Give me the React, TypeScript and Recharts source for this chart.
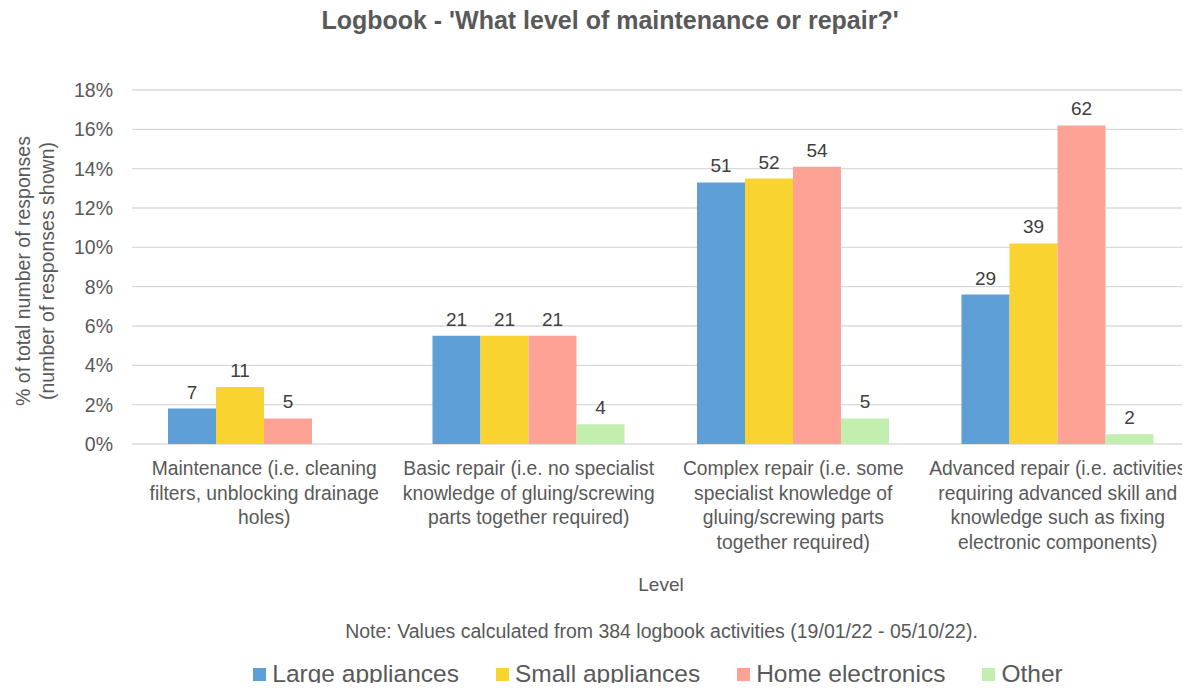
import React from 'react';
import { BarChart, Bar, XAxis, YAxis, CartesianGrid, Legend, LabelList, Label } from 'recharts';

const categories = [
  'Maintenance (i.e. cleaning\nfilters, unblocking drainage\nholes)',
  'Basic repair (i.e. no specialist\nknowledge of gluing/screwing\nparts together required)',
  'Complex repair (i.e. some\nspecialist knowledge of\ngluing/screwing parts\ntogether required)',
  'Advanced repair (i.e. activities\nrequiring advanced skill and\nknowledge such as fixing\nelectronic components)',
];

// % of total responses
const largePct = [1.8, 5.5, 13.3, 7.6];
const smallPct = [2.9, 5.5, 13.5, 10.2];
const homePct = [1.3, 5.5, 14.1, 16.2];
const otherPct = [null, 1.0, 1.3, 0.5];

// number of responses shown above bars
const largeN = [7, 21, 51, 29];
const smallN = [11, 21, 52, 39];
const homeN = [5, 21, 54, 62];
const otherN = [null, 4, 5, 2];

const yTicks = [0, 2, 4, 6, 8, 10, 12, 14, 16, 18];

const FONT = '"Liberation Sans", Arial, Helvetica, sans-serif';
const GREY = '#595959';

const series = [
  { key: 'large', label: 'largeN', name: 'Large appliances', color: '#5f9fd7' },
  { key: 'small', label: 'smallN', name: 'Small appliances', color: '#f9d431' },
  { key: 'home', label: 'homeN', name: 'Home electronics', color: '#ffa296' },
  { key: 'other', label: 'otherN', name: 'Other', color: '#c2eeb0' },
];

const data = categories.map((c, i) => ({
  category: c,
  large: largePct[i],
  small: smallPct[i],
  home: homePct[i],
  other: otherPct[i],
  largeN: largeN[i],
  smallN: smallN[i],
  homeN: homeN[i],
  otherN: otherN[i],
}));

const CategoryTick = (props: any) => {
  const { x, y, payload } = props;
  const lines = String(payload.value).split('\n');
  return (
    <text x={x} y={y + 23} textAnchor="middle" fill={GREY} fontSize={19.3} fontFamily={FONT}>
      {lines.map((l: string, i: number) => (
        <tspan key={i} x={x} dy={i === 0 ? 0 : 24.5}>{l}</tspan>
      ))}
    </text>
  );
};

const LegendBox = () => (
  <div style={{ height: 71, fontFamily: FONT, color: GREY }}>
    <div style={{ textAlign: 'center', fontSize: 19.5, height: 22, lineHeight: '22px', paddingLeft: 133 }}>
      Note: Values calculated from 384 logbook activities (19/01/22 - 05/10/22).
    </div>
    <div style={{ display: 'flex', justifyContent: 'center', alignItems: 'center', marginTop: 19, paddingLeft: 126 }}>
      {series.map((s, i) => (
        <div key={s.key} style={{ display: 'flex', alignItems: 'center', marginRight: i < series.length - 1 ? 37 : 0 }}>
          <span style={{ width: 13, height: 13, background: s.color, display: 'inline-block', marginRight: 6 }} />
          <span style={{ fontSize: 24.5, lineHeight: '26px' }}>{s.name}</span>
        </div>
      ))}
    </div>
  </div>
);

const YLabel = () => {
  const cy = 271;
  return (
    <g fontFamily={FONT} fontSize={19.5} fill={GREY}>
      <text x={23} y={cy} textAnchor="middle" dominantBaseline="central" transform={`rotate(-90, 23, ${cy})`}>
        % of total number of responses
      </text>
      <text x={47} y={cy} textAnchor="middle" dominantBaseline="central" transform={`rotate(-90, 47, ${cy})`}>
        (number of responses shown)
      </text>
    </g>
  );
};

const XLabel = (props: any) => {
  const { viewBox } = props;
  const cx = viewBox.x + viewBox.width / 2;
  return (
    <text x={cx} y={584} textAnchor="middle" dominantBaseline="central" fill={GREY} fontSize={19} fontFamily={FONT}>
      Level
    </text>
  );
};

export default function App() {
  return (
    <div style={{ position: 'relative', width: 1190, height: 691, margin: -8, background: '#fff', fontFamily: FONT }}>
      <div style={{ position: 'absolute', top: 6, left: 0, width: 1220, textAlign: 'center', fontSize: 25, fontWeight: 'bold', color: GREY }}>
        Logbook - 'What level of maintenance or repair?'
      </div>
      <div style={{ position: 'absolute', top: 0, left: 0 }}>
        <BarChart
          width={1190}
          height={691}
          data={data}
          margin={{ top: 90, right: 0, left: 0, bottom: 0 }}
          barCategoryGap={36}
          barGap={0}
        >
          <CartesianGrid vertical={false} stroke="#dadada" strokeWidth={1.4} />
          <XAxis
            dataKey="category"
            axisLine={false}
            tickLine={false}
            interval={0}
            height={176}
            tick={<CategoryTick />}
          >
            <Label content={<XLabel />} />
          </XAxis>
          <YAxis
            width={132}
            domain={[0, 18]}
            ticks={yTicks}
            axisLine={false}
            tickLine={false}
            tickMargin={13}
            tickFormatter={(v: number) => `${v}%`}
            tick={{ fill: GREY, fontSize: 19.5, fontFamily: FONT }}
          >
            <Label content={<YLabel />} />
          </YAxis>
          <Legend verticalAlign="bottom" align="center" content={<LegendBox />} wrapperStyle={{ height: 71 }} />
          {series.map((s) => (
            <Bar key={s.key} dataKey={s.key} name={s.name} fill={s.color} isAnimationActive={false}>
              <LabelList dataKey={s.label} position="top" offset={10} fill="#404040" fontSize={19} fontFamily={FONT} />
            </Bar>
          ))}
        </BarChart>
      </div>
    </div>
  );
}
